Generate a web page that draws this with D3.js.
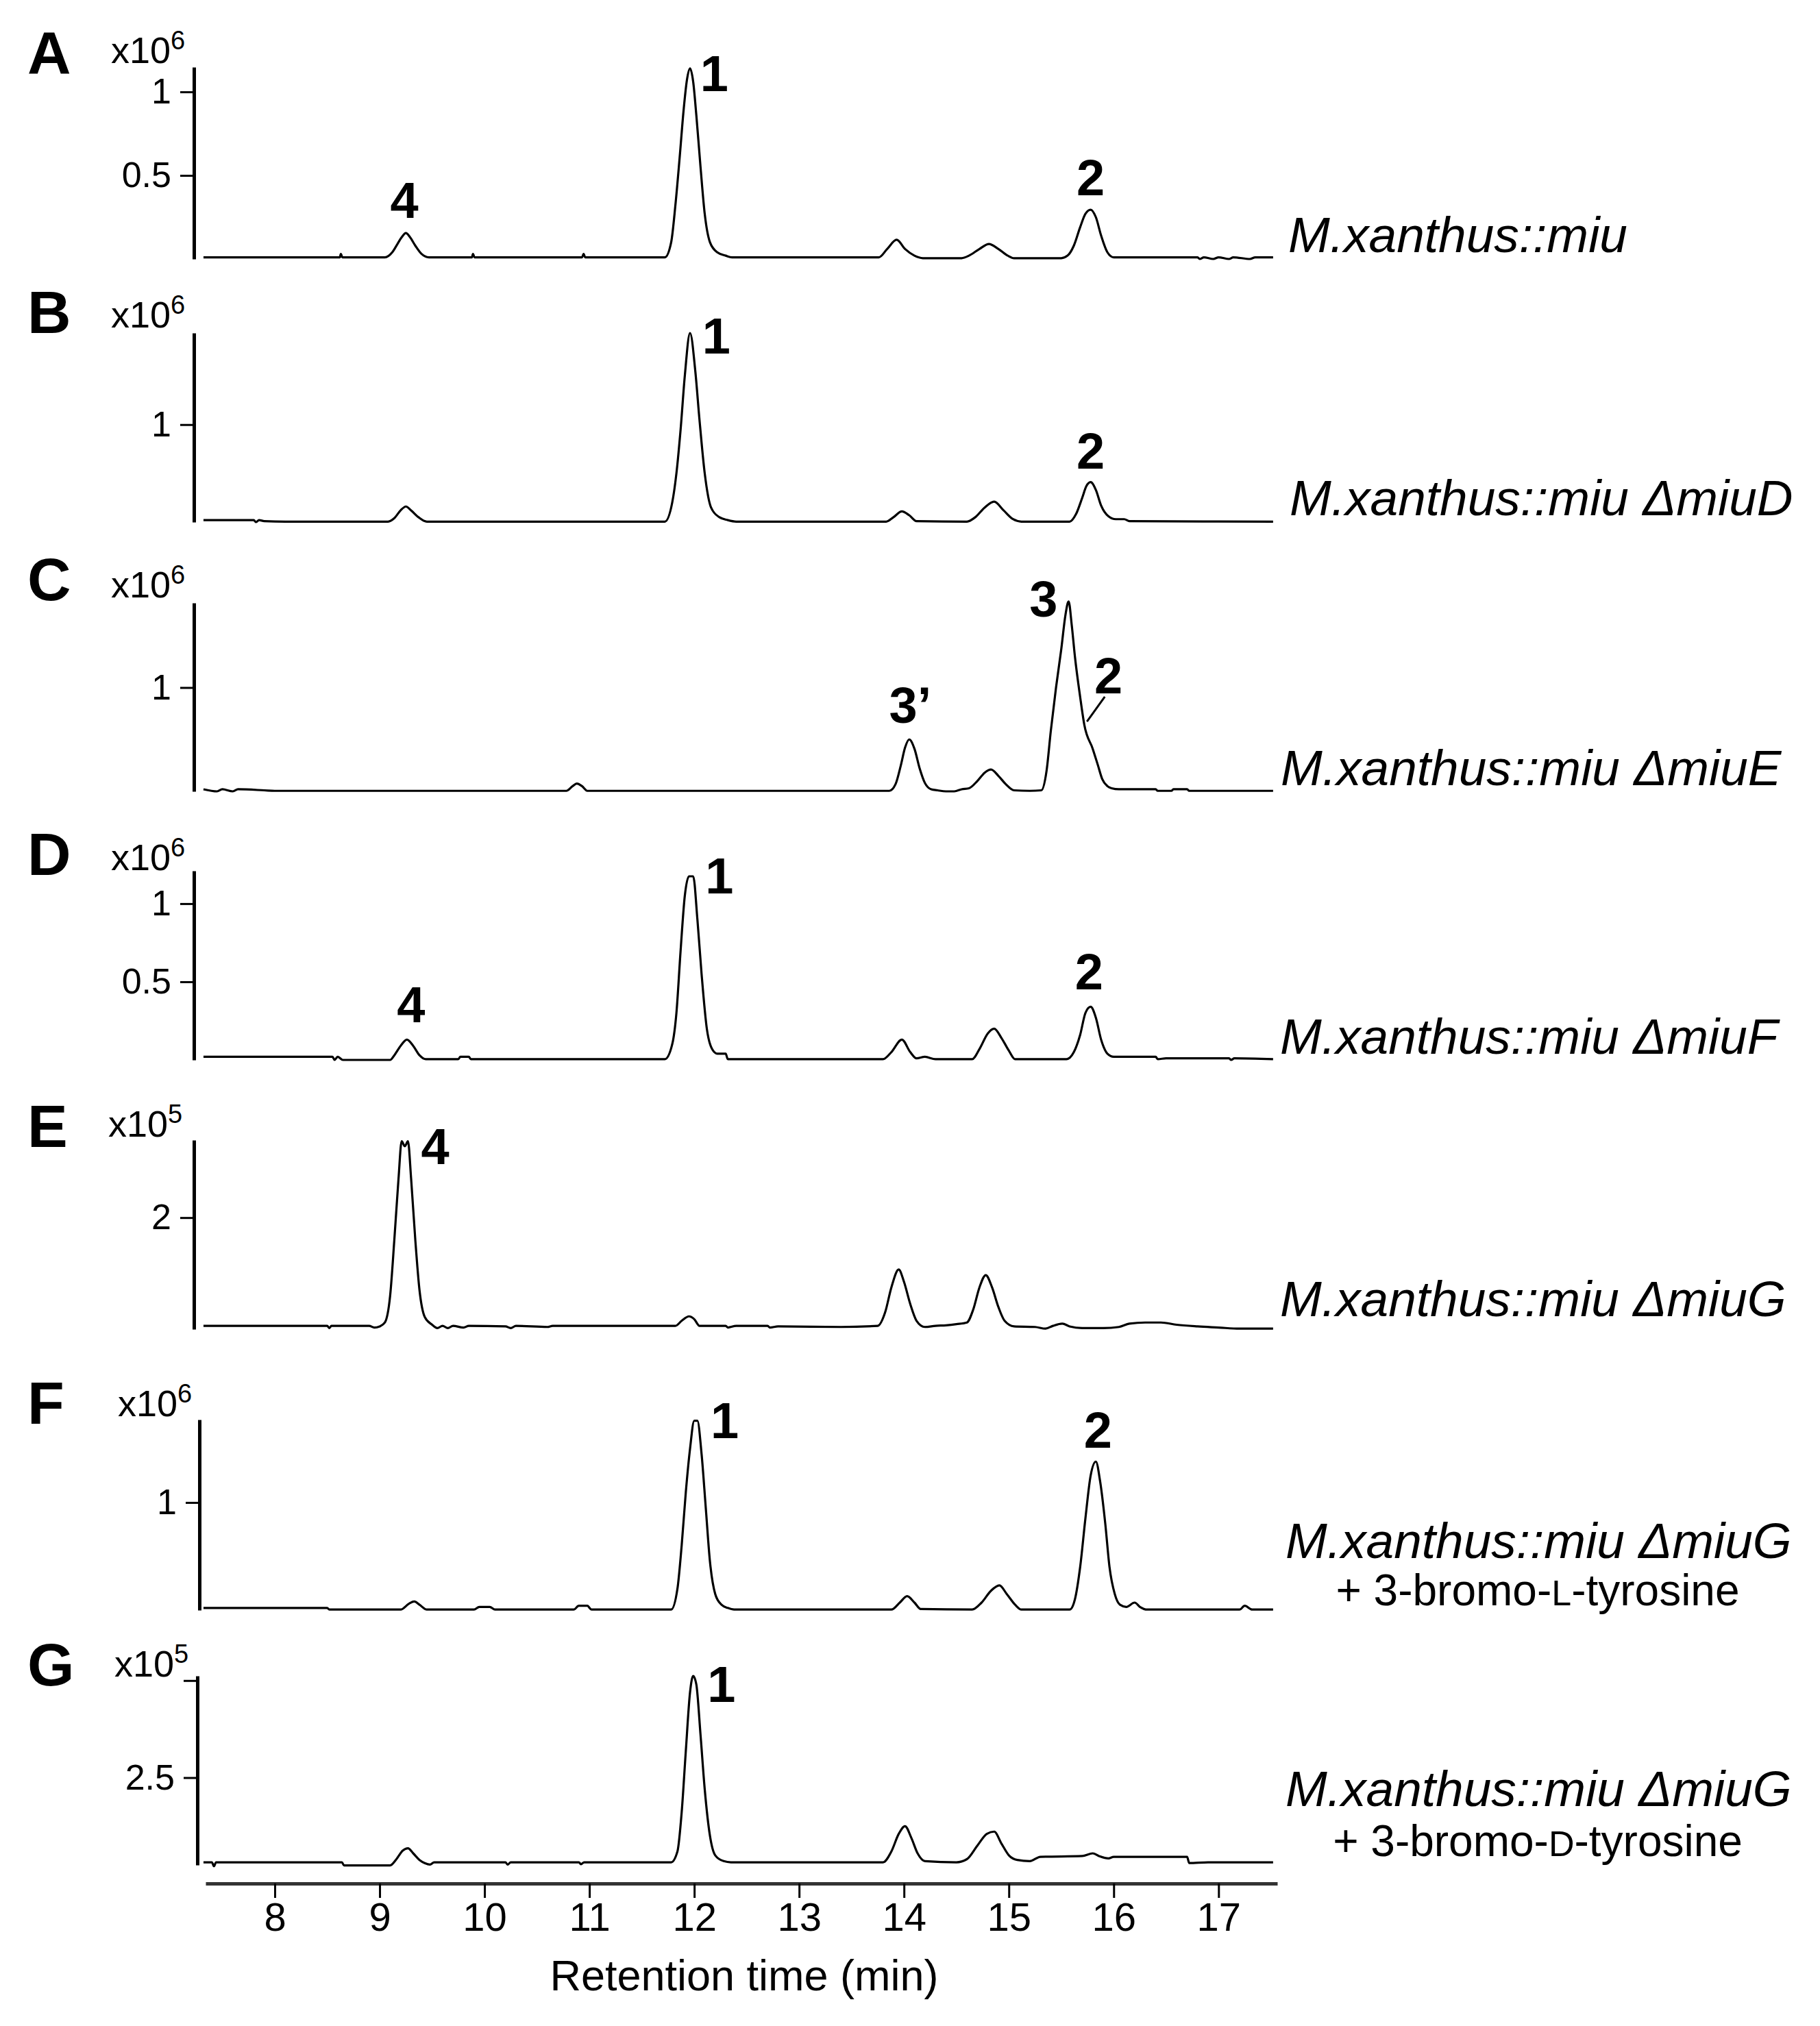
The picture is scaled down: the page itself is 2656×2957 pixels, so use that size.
<!DOCTYPE html>
<html><head><meta charset="utf-8">
<script src="https://cdn.jsdelivr.net/npm/d3@7"></script>
<style>body{margin:0;background:#fff}</style>
</head><body>
<svg id="chart" width="2656" height="2957"></svg>
<script>
// ---------- DATA ----------
const panelLetters = ["A","B","C","D","E","F","G"];
const scaleExponents = ["6","6","6","6","5","6","5"];
const yTickValues = [[0.5,1],[1],[1],[0.5,1],[2],[1],[2.5,5]];
const yTickLabels = [["0.5","1"],["1"],["1"],["0.5","1"],["2"],["1"],["2.5",""]];
const yDomains = [[0,1.148],[0,1.94],[0,1.815],[0,1.21],[0,3.39],[0,1.77],[0.25,5.12]];
const xDomain = [7.34, 17.56];
const xTickValues = [8,9,10,11,12,13,14,15,16,17];
const xTitle = "Retention time (min)";
const strainNames = [
  ["M.xanthus::miu"],
  ["M.xanthus::miu \u0394miuD"],
  ["M.xanthus::miu \u0394miuE"],
  ["M.xanthus::miu \u0394miuF"],
  ["M.xanthus::miu \u0394miuG"],
  ["M.xanthus::miu \u0394miuG", ["+ 3-bromo-", "L", "-tyrosine"]],
  ["M.xanthus::miu \u0394miuG", ["+ 3-bromo-", "D", "-tyrosine"]]
];

const traceA = [[7.32,0.01],[8.62,0.01],[8.63,0.03],[8.645,0.01],[9.05,0.01],[9.12,0.04],[9.17,0.09],[9.21,0.13],[9.25,0.155],[9.29,0.13],[9.34,0.08],[9.40,0.03],[9.47,0.01],[9.88,0.01],[9.89,0.03],[9.905,0.01],[10.93,0.01],[10.945,0.03],[10.96,0.01],[11.72,0.01],[11.78,0.1],[11.82,0.32],[11.86,0.6],[11.90,0.9],[11.93,1.07],[11.96,1.14],[11.99,1.06],[12.02,0.86],[12.06,0.55],[12.10,0.27],[12.15,0.1],[12.22,0.04],[12.30,0.02],[12.36,0.01],[13.76,0.01],[13.84,0.06],[13.93,0.115],[14.01,0.06],[14.10,0.02],[14.18,0.005],[14.55,0.005],[14.62,0.02],[14.72,0.06],[14.81,0.09],[14.90,0.06],[14.99,0.02],[15.05,0.005],[15.50,0.005],[15.56,0.02],[15.62,0.08],[15.68,0.19],[15.73,0.27],[15.78,0.295],[15.83,0.25],[15.88,0.14],[15.94,0.04],[16.00,0.01],[16.80,0.01],[16.82,0.0],[16.86,0.01],[16.95,0.0],[17.0,0.01],[17.1,0.0],[17.14,0.01],[17.30,0.0],[17.35,0.01],[17.52,0.01]];

const traceB = [[7.32,0.02],[7.80,0.02],[7.82,0.0],[7.85,0.02],[7.90,0.01],[8.10,0.005],[9.08,0.005],[9.14,0.04],[9.20,0.12],[9.25,0.16],[9.30,0.12],[9.37,0.05],[9.45,0.005],[11.72,0.005],[11.79,0.2],[11.83,0.5],[11.87,0.95],[11.91,1.5],[11.96,1.94],[12.01,1.55],[12.05,1.05],[12.10,0.5],[12.16,0.15],[12.24,0.05],[12.32,0.02],[12.40,0.005],[13.83,0.005],[13.90,0.05],[13.98,0.11],[14.05,0.07],[14.12,0.01],[14.60,0.005],[14.68,0.05],[14.77,0.15],[14.86,0.21],[14.95,0.12],[15.04,0.03],[15.12,0.005],[15.58,0.005],[15.64,0.08],[15.70,0.25],[15.74,0.37],[15.78,0.41],[15.83,0.33],[15.88,0.17],[15.95,0.06],[16.02,0.03],[16.10,0.03],[16.15,0.01],[17.52,0.005]];

const traceC = [[7.32,0.02],[7.45,0.0],[7.50,0.02],[7.60,0.0],[7.65,0.02],[7.90,0.01],[8.00,0.005],[10.78,0.005],[10.84,0.05],[10.88,0.075],[10.93,0.05],[10.98,0.005],[13.86,0.005],[13.92,0.07],[13.97,0.25],[14.01,0.42],[14.05,0.5],[14.10,0.41],[14.15,0.22],[14.20,0.08],[14.26,0.02],[14.32,0.01],[14.40,0.0],[14.48,0.0],[14.55,0.02],[14.62,0.03],[14.70,0.1],[14.77,0.18],[14.83,0.21],[14.90,0.15],[14.97,0.07],[15.05,0.01],[15.20,0.005],[15.31,0.01],[15.36,0.2],[15.40,0.58],[15.45,1.0],[15.50,1.37],[15.54,1.7],[15.57,1.83],[15.60,1.6],[15.63,1.3],[15.68,0.91],[15.72,0.64],[15.80,0.41],[15.85,0.25],[15.89,0.12],[15.94,0.05],[15.98,0.03],[16.05,0.02],[16.40,0.02],[16.42,0.005],[16.55,0.005],[16.57,0.02],[16.70,0.02],[16.72,0.005],[17.52,0.005]];

const traceD = [[7.32,0.02],[8.55,0.02],[8.57,0.0],[8.60,0.02],[8.65,0.0],[9.10,0.0],[9.14,0.03],[9.20,0.09],[9.26,0.13],[9.32,0.09],[9.38,0.03],[9.44,0.005],[9.75,0.005],[9.77,0.02],[9.85,0.02],[9.87,0.005],[11.72,0.005],[11.79,0.1],[11.83,0.3],[11.87,0.7],[11.91,1.05],[11.95,1.175],[11.99,1.175],[12.03,0.9],[12.07,0.55],[12.12,0.2],[12.17,0.07],[12.22,0.04],[12.30,0.04],[12.32,0.005],[13.80,0.005],[13.88,0.05],[13.98,0.13],[14.06,0.05],[14.12,0.01],[14.20,0.02],[14.30,0.005],[14.65,0.005],[14.72,0.07],[14.80,0.17],[14.86,0.2],[14.93,0.14],[15.00,0.06],[15.06,0.005],[15.55,0.005],[15.62,0.05],[15.68,0.16],[15.73,0.3],[15.78,0.34],[15.83,0.27],[15.88,0.13],[15.94,0.04],[16.00,0.02],[16.40,0.02],[16.42,0.005],[16.50,0.01],[17.10,0.01],[17.12,0.0],[17.15,0.01],[17.52,0.005]];

const traceE = [[7.32,0.06],[8.50,0.06],[8.52,0.02],[8.54,0.06],[8.90,0.06],[8.95,0.03],[9.00,0.05],[9.05,0.12],[9.10,0.6],[9.14,1.6],[9.18,2.7],[9.21,3.37],[9.24,3.28],[9.27,3.37],[9.30,2.7],[9.34,1.6],[9.38,0.7],[9.43,0.22],[9.50,0.08],[9.55,0.02],[9.60,0.06],[9.65,0.02],[9.70,0.06],[9.80,0.03],[9.85,0.06],[10.20,0.05],[10.25,0.02],[10.30,0.06],[10.60,0.04],[10.65,0.06],[11.50,0.06],[11.82,0.06],[11.88,0.15],[11.95,0.23],[12.00,0.18],[12.05,0.06],[12.30,0.06],[12.32,0.03],[12.40,0.06],[12.70,0.06],[12.72,0.03],[12.80,0.05],[13.40,0.04],[13.75,0.06],[13.82,0.3],[13.88,0.75],[13.95,1.07],[14.00,0.85],[14.06,0.45],[14.12,0.15],[14.20,0.04],[14.30,0.06],[14.40,0.07],[14.50,0.09],[14.60,0.12],[14.66,0.35],[14.72,0.75],[14.78,0.97],[14.84,0.75],[14.90,0.4],[14.96,0.15],[15.05,0.05],[15.25,0.04],[15.35,0.01],[15.42,0.06],[15.51,0.1],[15.58,0.05],[15.70,0.02],[15.90,0.02],[16.05,0.04],[16.15,0.1],[16.30,0.12],[16.45,0.12],[16.60,0.08],[16.80,0.05],[17.00,0.03],[17.20,0.01],[17.52,0.01]];

const traceF = [[7.32,0.02],[8.50,0.02],[8.52,0.005],[9.20,0.005],[9.28,0.06],[9.33,0.08],[9.38,0.05],[9.45,0.005],[9.90,0.005],[9.95,0.03],[10.05,0.03],[10.10,0.005],[10.85,0.005],[10.90,0.04],[10.98,0.04],[11.02,0.005],[11.78,0.005],[11.84,0.2],[11.88,0.6],[11.92,1.1],[11.96,1.5],[12.00,1.76],[12.03,1.76],[12.07,1.45],[12.11,0.95],[12.15,0.45],[12.20,0.15],[12.26,0.05],[12.32,0.02],[12.38,0.005],[13.88,0.005],[13.96,0.07],[14.03,0.13],[14.10,0.07],[14.16,0.01],[14.65,0.005],[14.74,0.07],[14.83,0.18],[14.91,0.23],[14.98,0.15],[15.06,0.05],[15.12,0.005],[15.58,0.005],[15.63,0.1],[15.68,0.4],[15.73,0.85],[15.78,1.25],[15.83,1.38],[15.87,1.2],[15.92,0.8],[15.96,0.4],[16.01,0.15],[16.06,0.05],[16.12,0.03],[16.20,0.07],[16.25,0.03],[16.32,0.005],[17.20,0.005],[17.25,0.04],[17.32,0.005],[17.52,0.005]];

const traceG = [[7.32,0.32],[7.40,0.32],[7.42,0.22],[7.44,0.32],[8.64,0.32],[8.66,0.24],[9.10,0.24],[9.16,0.4],[9.22,0.62],[9.27,0.68],[9.32,0.55],[9.38,0.38],[9.43,0.3],[9.48,0.26],[9.52,0.32],[10.20,0.32],[10.22,0.26],[10.25,0.32],[10.90,0.32],[10.92,0.27],[10.95,0.32],[11.78,0.32],[11.84,0.6],[11.88,1.6],[11.92,3.2],[11.96,4.7],[11.99,5.12],[12.02,4.9],[12.06,3.6],[12.10,2.2],[12.15,1.0],[12.20,0.5],[12.28,0.35],[12.35,0.32],[13.80,0.32],[13.88,0.6],[13.95,1.05],[14.01,1.25],[14.07,0.95],[14.13,0.55],[14.20,0.35],[14.50,0.32],[14.60,0.4],[14.70,0.75],[14.79,1.05],[14.86,1.11],[14.93,0.8],[15.00,0.5],[15.08,0.38],[15.20,0.35],[15.30,0.46],[15.70,0.48],[15.80,0.55],[15.86,0.48],[15.95,0.42],[16.00,0.46],[16.70,0.46],[16.72,0.3],[16.90,0.32],[17.52,0.32]];

const traces = [traceA, traceB, traceC, traceD, traceE, traceF, traceG];

// peak annotations: [text, time (centre), intensity (text baseline)]
const peakLabels = [
  [["4",9.235,0.246],["1",12.19,1.004],["2",15.78,0.381]],
  [["1",12.21,1.729],["2",15.78,0.548]],
  [["3\u2019",14.06,0.66],["3",15.33,1.683],["2",15.95,0.944]],
  [["4",9.30,0.241],["1",12.24,1.065],["2",15.765,0.452]],
  [["4",9.53,2.96]],
  [["1",12.29,1.598],["2",15.85,1.509]],
  [["1",12.26,4.45]]
];
// leader line in panel C: [t1, v1, t2, v2]
const leaderC = [15.915, 0.911, 15.745, 0.673];

// ---------- LAYOUT ----------
const layout = [
  {axisX:283, top:98,   bottom:378,  letterY:107,  expX:162, expY:92,   name:[1880,368]},
  {axisX:283, top:486,  bottom:762,  letterY:486,  expX:162, expY:478,  name:[1882,752]},
  {axisX:283, top:880,  bottom:1155, letterY:876,  expX:162, expY:872,  name:[1869,1146]},
  {axisX:283, top:1271, bottom:1547, letterY:1277, expX:162, expY:1270, name:[1868,1538]},
  {axisX:283, top:1664, bottom:1940, letterY:1674, expX:158, expY:1659, name:[1868,1921]},
  {axisX:291, top:2072, bottom:2350, letterY:2078, expX:172, expY:2067, name:[1876,2274], name2:[2244,2343]},
  {axisX:288, top:2446, bottom:2722, letterY:2460, expX:167, expY:2447, name:[1876,2636], name2:[2244,2709]}
];
const FONT = "'Liberation Sans', Arial, Helvetica, sans-serif";

const svg = d3.select("#chart");
svg.append("rect").attr("width",2656).attr("height",2957).attr("fill","#fff");

const x = d3.scaleLinear().domain(xDomain).range([300,1864]);

traces.forEach((tr,i)=>{
  const L = layout[i];
  const y = d3.scaleLinear().domain(yDomains[i]).range([L.bottom, L.top]);
  const g = svg.append("g").attr("class","panel");

  const ax = d3.axisLeft(y)
    .tickValues(yTickValues[i])
    .tickFormat(d => yTickLabels[i][yTickValues[i].indexOf(d)])
    .tickSize(20).tickSizeOuter(0).tickPadding(13);
  const ag = g.append("g").attr("transform",`translate(${L.axisX},0)`).call(ax);
  ag.select(".domain").attr("stroke","#000").attr("stroke-width",5);
  ag.selectAll(".tick line").attr("stroke","#000").attr("stroke-width",3);
  ag.selectAll(".tick text").attr("font-family",FONT).attr("font-size",52).attr("fill","#000");

  g.append("path").datum(tr)
    .attr("d", d3.line().x(d=>x(d[0])).y(d=>y(d[1])).curve(d3.curveMonotoneX))
    .attr("fill","none").attr("stroke","#000").attr("stroke-width",3.2)
    .attr("stroke-linejoin","round");

  g.append("text").attr("x",40).attr("y",L.letterY)
    .attr("font-family",FONT).attr("font-weight","bold").attr("font-size",88)
    .text(panelLetters[i]);

  const et = g.append("text").attr("x",L.expX).attr("y",L.expY)
    .attr("font-family",FONT).attr("font-size",54);
  et.append("tspan").text("x10");
  et.append("tspan").attr("dy",-20).attr("font-size",38).text(scaleExponents[i]);

  peakLabels[i].forEach(p=>{
    g.append("text").attr("x",x(p[1])).attr("y",y(p[2]))
      .attr("text-anchor","middle").attr("font-family",FONT)
      .attr("font-weight","bold").attr("font-size",74).text(p[0]);
  });
  if (i===2) {
    g.append("line").attr("x1",x(leaderC[0])).attr("y1",y(leaderC[1]))
      .attr("x2",x(leaderC[2])).attr("y2",y(leaderC[3]))
      .attr("stroke","#000").attr("stroke-width",3);
  }

  const nm = strainNames[i];
  g.append("text").attr("x",L.name[0]).attr("y",L.name[1])
    .attr("font-family",FONT).attr("font-style","italic").attr("font-size",73)
    .text(nm[0]);
  if (nm[1]) {
    const t2 = g.append("text").attr("x",L.name2[0]).attr("y",L.name2[1])
      .attr("text-anchor","middle").attr("font-family",FONT).attr("font-size",64);
    t2.append("tspan").text(nm[1][0]);
    t2.append("tspan").attr("font-size",52).text(nm[1][1]);
    t2.append("tspan").text(nm[1][2]);
  }
});

// x axis
const xa = svg.append("g").attr("transform","translate(0,2749)")
  .call(d3.axisBottom(x).tickValues(xTickValues).tickFormat(d3.format("d"))
    .tickSize(21).tickSizeOuter(0).tickPadding(7));
xa.select(".domain").attr("stroke","#333").attr("stroke-width",5);
xa.selectAll(".tick line").attr("stroke","#000").attr("stroke-width",3);
xa.selectAll(".tick text").attr("font-family",FONT).attr("font-size",58).attr("fill","#000");

svg.append("text").attr("x",1086).attr("y",2905).attr("text-anchor","middle")
  .attr("font-family",FONT).attr("font-size",63).text(xTitle);
</script>
</body></html>
